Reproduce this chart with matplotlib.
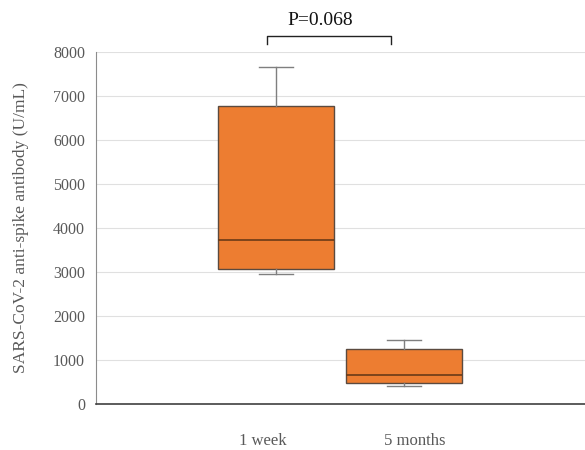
import matplotlib.pyplot as plt

# values (U/mL)
groups = ["1 week", "5 months"]
whisker_low = [2950, 410]
q1 = [3065, 475]
median = [3725, 665]
q3 = [6770, 1260]
whisker_high = [7660, 1455]
p_text = "P=0.068"

plt.rcParams['font.family'] = ['Liberation Serif', 'DejaVu Serif']

fig = plt.figure(figsize=(5.85, 4.5), dpi=100)
ax = fig.add_axes([0.1641, 0.1022, 0.8359, 0.7822])

stats = []
for i in range(len(groups)):
    stats.append(dict(whislo=whisker_low[i], q1=q1[i], med=median[i],
                      q3=q3[i], whishi=whisker_high[i], fliers=[], label=groups[i]))

positions = [1, 2]
ax.bxp(stats, positions=positions, widths=0.9, patch_artist=True, showfliers=False,
       boxprops=dict(facecolor="#ED7D31", edgecolor="#5b4a3f", linewidth=1.0),
       medianprops=dict(color="#6b3a17", linewidth=1.2),
       whiskerprops=dict(color="#7f7f7f", linewidth=1.0),
       capprops=dict(color="#7f7f7f", linewidth=1.0),
       capwidths=0.27, zorder=3)

ax.set_xlim(-0.406, 3.414)
ax.set_ylim(0, 8000)
ax.set_yticks(range(0, 8001, 1000))
ax.yaxis.grid(True, color="#e0e0e0", linewidth=0.8)
ax.set_axisbelow(True)

# category labels sit a little off the box centres in the original
ax.set_xticks([0.898, 2.086])
ax.set_xticklabels(groups)
ax.tick_params(axis="x", length=0, pad=21, labelsize=12, labelcolor="#595959")
ax.tick_params(axis="y", length=0, pad=8, labelsize=11.5, labelcolor="#595959")

for s in ["top", "right"]:
    ax.spines[s].set_visible(False)
ax.spines["left"].set_color("#8c8c8c")
ax.spines["bottom"].set_color("#404040")
ax.spines["bottom"].set_linewidth(1.2)

ax.set_ylabel("SARS-CoV-2 anti-spike antibody (U/mL)", fontsize=12.5, color="#595959", labelpad=17)

# significance bracket
ax.plot([0.93, 0.93, 1.90, 1.90], [8180, 8365, 8365, 8180], color="#222222",
        linewidth=1.0, clip_on=False)
ax.text(1.344, 8530, p_text, ha="center", va="bottom", fontsize=14, color="#111111")

fig.savefig("out.png", dpi=100)
